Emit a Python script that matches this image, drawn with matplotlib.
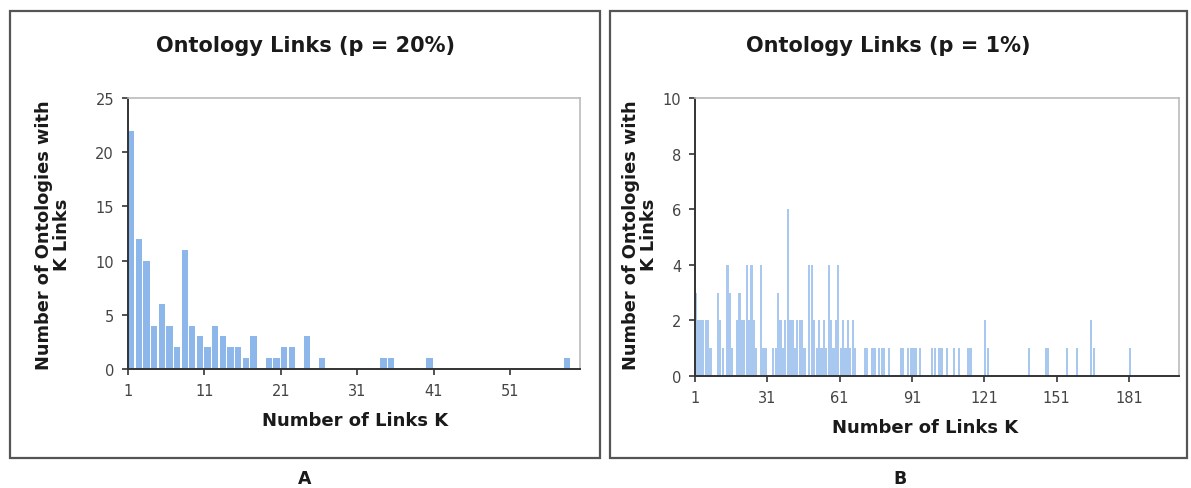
import matplotlib
matplotlib.use("Agg")
import matplotlib.pyplot as plt
from matplotlib.patches import Rectangle

# panel A: p = 20%
links_a = [1, 2, 3, 4, 5, 6, 7, 8, 9, 10, 11, 12, 13, 14, 15, 16, 17,
           19, 20, 21, 22, 24, 26, 34, 35, 40, 58]
count_a = [22, 12, 10, 4, 6, 4, 2, 11, 4, 3, 2, 4, 3, 2, 2, 1, 3,
           1, 1, 2, 2, 3, 1, 1, 1, 1, 1]

# panel B: p = 1%
links_b = [1, 2, 3, 4, 5, 6, 7, 10, 11, 12, 14, 15, 16, 18, 19, 20, 21, 22,
           23, 24, 25, 26, 28, 29, 30, 33, 34, 35, 36, 37, 38, 39, 40, 41,
           42, 43, 44, 45, 46, 48, 49, 50, 51, 52, 53, 54, 55, 56, 57, 58,
           59, 60, 61, 62, 63, 64, 65, 66, 67, 71, 72, 74, 75, 77, 78, 79,
           81, 86, 87, 89, 90, 91, 92, 94, 99, 100, 102, 103, 105, 108, 110,
           114, 115, 121, 122, 139, 146, 147, 155, 159, 165, 166, 181]
count_b = [3, 2, 2, 2, 2, 2, 1, 3, 2, 1, 4, 3, 1, 2, 3, 2, 2, 4,
           2, 4, 2, 1, 4, 1, 1, 1, 1, 3, 2, 1, 2, 6, 2, 2,
           1, 2, 2, 2, 1, 4, 4, 2, 1, 2, 1, 2, 1, 4, 2, 1,
           2, 4, 1, 2, 1, 2, 1, 2, 1, 1, 1, 1, 1, 1, 1, 1,
           1, 1, 1, 1, 1, 1, 1, 1, 1, 1, 1, 1, 1, 1, 1,
           1, 1, 2, 1, 1, 1, 1, 1, 1, 2, 1, 1]

W, H = 1191, 489
fig = plt.figure(figsize=(W / 100, H / 100), dpi=100)


def px(x, y):
    return x / W, 1 - y / H


# panel frames
for x0, x1 in [(10, 600), (610, 1187)]:
    fig.add_artist(Rectangle(px(x0, 459), (x1 - x0) / W, (459 - 12) / H,
                             transform=fig.transFigure, fill=False,
                             edgecolor="#555555", linewidth=1.6))


def style(ax):
    for s in ["left", "bottom"]:
        ax.spines[s].set_color("#333333")
        ax.spines[s].set_linewidth(1.4)
    for s in ["top", "right"]:
        ax.spines[s].set_color("#bbbbbb")
        ax.spines[s].set_linewidth(1.2)
    ax.tick_params(direction="out", length=4, width=1.2, color="#333333",
                   labelsize=10.5, labelcolor="#444444", pad=6)


# panel A
axA = fig.add_axes([128 / W, 1 - 370 / H, (580 - 128) / W, (370 - 99) / H])
axA.bar(links_a, count_a, width=0.82, align="edge", color="#8db6ea")
axA.set_xlim(1, 60.1)
axA.set_ylim(0, 25)
axA.set_xticks([1, 11, 21, 31, 41, 51])
axA.set_yticks([0, 5, 10, 15, 20, 25])
style(axA)

# panel B
axB = fig.add_axes([695 / W, 1 - 377 / H, (1179 - 695) / W, (377 - 99) / H])
axB.bar(links_b, count_b, width=0.9, align="edge", color="#a9c8ef")
axB.set_xlim(1, 201.8)
axB.set_ylim(0, 10)
axB.set_xticks([1, 31, 61, 91, 121, 151, 181])
axB.set_yticks([0, 2, 4, 6, 8, 10])
style(axB)

bold = dict(fontweight="bold", color="#1a1a1a", ha="center", va="center")
fig.text(*px(305, 46), "Ontology Links (p = 20%)", fontsize=15, **bold)
fig.text(*px(888, 46), "Ontology Links (p = 1%)", fontsize=15, **bold)
fig.text(*px(53, 235), "Number of Ontologies with\nK Links", fontsize=12.8,
         rotation=90, linespacing=1.05, **bold)
fig.text(*px(640, 235), "Number of Ontologies with\nK Links", fontsize=12.8,
         rotation=90, linespacing=1.05, **bold)
fig.text(*px(355, 421), "Number of Links K", fontsize=13, **bold)
fig.text(*px(925, 428), "Number of Links K", fontsize=13, **bold)
fig.text(*px(305, 479), "A", fontsize=12.5, **bold)
fig.text(*px(900, 479), "B", fontsize=12.5, **bold)

fig.savefig("out.png", dpi=100)
